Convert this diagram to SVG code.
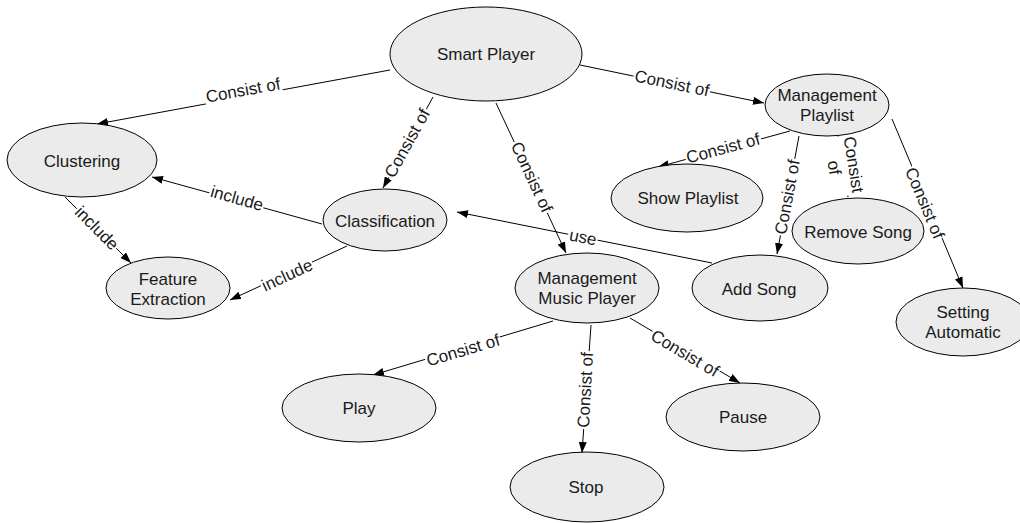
<svg xmlns="http://www.w3.org/2000/svg" width="1020" height="523" viewBox="0 0 1020 523">
<style>
.node ellipse{fill:#ebebeb;stroke:#000;stroke-width:1}
.node text{font-family:"Liberation Sans",Arial,sans-serif;font-size:17px;fill:#1a1a1a;text-anchor:middle}
.edge line{stroke:#000;stroke-width:1;marker-end:url(#arr)}
.lbl text{font-family:"Liberation Sans",Arial,sans-serif;font-size:17px;fill:#1a1a1a;text-anchor:middle}
.lbl rect{fill:#fff}
</style>
<defs>
<marker id="arr" viewBox="0 0 11 8" refX="11" refY="4" markerWidth="11" markerHeight="8" markerUnits="userSpaceOnUse" orient="auto">
<path d="M0,0 L11,4 L0,8 z" fill="#000"/>
</marker>
</defs>
<rect width="1020" height="523" fill="#fff"/>
<g id="connectors">
<g class="edge"><line x1="390" y1="70" x2="97" y2="124"/><g class="lbl" transform="translate(243,90) rotate(-10.4)"><rect x="-39" y="-8" width="78" height="16"/><text y="6">Consist of</text></g></g>
<g class="edge"><line x1="433" y1="97" x2="383" y2="188"/><g class="lbl" transform="translate(407,143) rotate(-61.2)"><rect x="-39" y="-8" width="78" height="16"/><text y="6">Consist of</text></g></g>
<g class="edge"><line x1="496" y1="103" x2="566" y2="253"/><g class="lbl" transform="translate(532,177) rotate(65)"><rect x="-39" y="-8" width="78" height="16"/><text y="6">Consist of</text></g></g>
<g class="edge"><line x1="580" y1="65" x2="764" y2="103"/><g class="lbl" transform="translate(672,83) rotate(11.7)"><rect x="-39" y="-8" width="78" height="16"/><text y="6">Consist of</text></g></g>
<g class="edge"><line x1="322" y1="224" x2="152" y2="177"/><g class="lbl" transform="translate(237,198) rotate(15.5)"><rect x="-28" y="-8" width="56" height="16"/><text y="6">include</text></g></g>
<g class="edge"><line x1="347" y1="246" x2="230" y2="300"/><g class="lbl" transform="translate(287,275) rotate(-24.8)"><rect x="-28" y="-8" width="56" height="16"/><text y="6">include</text></g></g>
<g class="edge"><line x1="65" y1="197" x2="131" y2="263"/><g class="lbl" transform="translate(97,228) rotate(45)"><rect x="-28" y="-8" width="56" height="16"/><text y="6">include</text></g></g>
<g class="edge"><line x1="712" y1="263" x2="457" y2="212"/><g class="lbl" transform="translate(583,237) rotate(11.3)"><rect x="-15" y="-8" width="30" height="16"/><text y="6">use</text></g></g>
<g class="edge"><line x1="790" y1="131" x2="658" y2="167"/><g class="lbl" transform="translate(723,148) rotate(-15)"><rect x="-39" y="-8" width="78" height="16"/><text y="6">Consist of</text></g></g>
<g class="edge"><line x1="799" y1="136" x2="777" y2="254"/><g class="lbl" transform="translate(787,197) rotate(-79.4)"><rect x="-39" y="-8" width="78" height="16"/><text y="6">Consist of</text></g></g>
<g class="edge"><line x1="838" y1="136" x2="848" y2="197"/><g class="lbl" transform="translate(844,166) rotate(80.8)"><rect x="-30" y="-18" width="60" height="36"/><text y="-4"><tspan x="0">Consist</tspan><tspan x="0" dy="19.5">of</tspan></text></g></g>
<g class="edge"><line x1="892" y1="119" x2="963" y2="288"/><g class="lbl" transform="translate(925,203) rotate(67.2)"><rect x="-39" y="-8" width="78" height="16"/><text y="6">Consist of</text></g></g>
<g class="edge"><line x1="553" y1="321" x2="373" y2="375"/><g class="lbl" transform="translate(463,350) rotate(-16.7)"><rect x="-39" y="-8" width="78" height="16"/><text y="6">Consist of</text></g></g>
<g class="edge"><line x1="591" y1="325" x2="582" y2="453"/><g class="lbl" transform="translate(585,390) rotate(-86.9)"><rect x="-39" y="-8" width="78" height="16"/><text y="6">Consist of</text></g></g>
<g class="edge"><line x1="630" y1="318" x2="740" y2="383"/><g class="lbl" transform="translate(685,353) rotate(30.6)"><rect x="-39" y="-8" width="78" height="16"/><text y="6">Consist of</text></g></g>
</g>
<g id="smart-player" class="node"><ellipse cx="486" cy="54" rx="96" ry="47"/><text x="486" y="60">Smart Player</text></g>
<g id="clustering" class="node"><ellipse cx="82" cy="160" rx="75" ry="37"/><text x="82" y="167">Clustering</text></g>
<g id="feature-extraction" class="node"><ellipse cx="168" cy="288" rx="62" ry="31"/><text x="168" y="285">Feature</text><text x="168" y="305">Extraction</text></g>
<g id="classification" class="node"><ellipse cx="385" cy="220" rx="62" ry="31"/><text x="385" y="227">Classification</text></g>
<g id="management-playlist" class="node"><ellipse cx="827" cy="105" rx="62" ry="31"/><text x="827" y="101">Management</text><text x="827" y="121">Playlist</text></g>
<g id="show-playlist" class="node"><ellipse cx="687" cy="198" rx="76" ry="34"/><text x="688" y="204">Show Playlist</text></g>
<g id="remove-song" class="node"><ellipse cx="858" cy="231" rx="66" ry="33"/><text x="858" y="238">Remove Song</text></g>
<g id="add-song" class="node"><ellipse cx="760" cy="288" rx="68" ry="33"/><text x="759" y="295">Add Song</text></g>
<g id="setting-automatic" class="node"><ellipse cx="963" cy="322" rx="67" ry="34"/><text x="963" y="318">Setting</text><text x="963" y="338">Automatic</text></g>
<g id="management-music-player" class="node"><ellipse cx="587" cy="288" rx="72" ry="35"/><text x="587" y="284">Management</text><text x="587" y="304">Music Player</text></g>
<g id="play" class="node"><ellipse cx="359" cy="408" rx="77" ry="34"/><text x="359" y="414">Play</text></g>
<g id="pause" class="node"><ellipse cx="743" cy="417" rx="77" ry="34"/><text x="743" y="423">Pause</text></g>
<g id="stop" class="node"><ellipse cx="587" cy="487" rx="77" ry="35"/><text x="586" y="493">Stop</text></g>
</svg>
